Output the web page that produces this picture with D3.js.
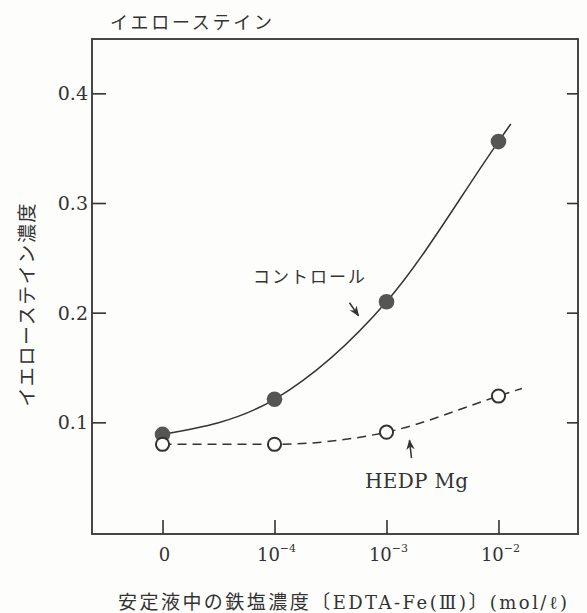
<!DOCTYPE html>
<html>
<head>
<meta charset="utf-8">
<script src="https://cdn.jsdelivr.net/npm/d3@7"></script>
<style>
  html, body { margin: 0; padding: 0; background: #fdfdfb; }
  svg { display: block; }
</style>
</head>
<body>
<svg id="chart" width="587" height="613"></svg>
<script>
// Iron salt concentration in stabiliser (categories on x axis)
const categories = ["0", "1e-4", "1e-3", "1e-2"];
const tickBase = ["0", "10", "10", "10"];
const tickExp = [null, "−4", "−3", "−2"];
// Yellow stain density
const controlValues = [0.089, 0.121, 0.210, 0.356];
const hedpValues = [0.080, 0.080, 0.091, 0.124];
const yTicks = [0.1, 0.2, 0.3, 0.4];
const yTickLabels = ["0.1", "0.2", "0.3", "0.4"];

const ink = "#333";
const svg = d3.select("#chart");
const frame = { left: 92, right: 578, top: 39, bottom: 534 };

const x = d3.scalePoint()
  .domain(categories)
  .range([frame.left, frame.right])
  .padding(0.67)
  .align(0.47);

const y = d3.scaleLinear()
  .domain([0, 0.45])
  .range([532, 38.5]);

// plot frame
svg.append("rect")
  .attr("x", frame.left).attr("y", frame.top)
  .attr("width", frame.right - frame.left)
  .attr("height", frame.bottom - frame.top)
  .attr("fill", "none").attr("stroke", ink).attr("stroke-width", 1.8);

// left axis (inward ticks) with labels
const leftAxis = d3.axisRight(y).tickValues(yTicks).tickSize(14).tickFormat("");
const gl = svg.append("g").attr("transform", `translate(${frame.left},0)`).call(leftAxis);
gl.select(".domain").remove();
gl.selectAll(".tick line").attr("stroke", ink).attr("stroke-width", 1.6);

svg.append("g").selectAll("text")
  .data(yTicks)
  .join("text")
  .attr("x", frame.left - 4)
  .attr("y", d => y(d))
  .attr("dy", "0.36em")
  .attr("text-anchor", "end")
  .attr("font-family", "DejaVu Serif")
  .attr("font-size", 19)
  .attr("fill", ink)
  .text((d, i) => yTickLabels[i]);

// right axis (inward ticks)
const rightAxis = d3.axisLeft(y).tickValues(yTicks).tickSize(11).tickFormat("");
const gr = svg.append("g").attr("transform", `translate(${frame.right},0)`).call(rightAxis);
gr.select(".domain").remove();
gr.selectAll(".tick line").attr("stroke", ink).attr("stroke-width", 1.6);

// bottom axis (upward ticks)
const bottomAxis = d3.axisTop(x).tickSize(14).tickFormat("");
const gb = svg.append("g").attr("transform", `translate(0,${frame.bottom})`).call(bottomAxis);
gb.select(".domain").remove();
gb.selectAll(".tick line").attr("stroke", ink).attr("stroke-width", 1.6);

const xl = svg.append("g").selectAll("text")
  .data(categories)
  .join("text")
  .attr("x", d => x(d) + 2)
  .attr("y", 561)
  .attr("text-anchor", "middle")
  .attr("font-family", "DejaVu Serif")
  .attr("font-size", 18)
  .attr("fill", ink);
xl.append("tspan").text((d, i) => tickBase[i]);
xl.filter((d, i) => tickExp[i] !== null)
  .append("tspan")
  .attr("font-size", 11)
  .attr("dy", -9)
  .text(d => tickExp[categories.indexOf(d)]);

// curves, each carried a short way past the last point along its final direction
function withExtension(values, k) {
  const pts = values.map((v, i) => [x(categories[i]), y(v)]);
  const n = pts.length;
  const a = pts[n - 2], b = pts[n - 1];
  pts.push([b[0] + (b[0] - a[0]) * k, b[1] + (b[1] - a[1]) * k]);
  return pts;
}
const line = d3.line().curve(d3.curveMonotoneX);

svg.append("path")
  .attr("d", line(withExtension(controlValues, 0.11)))
  .attr("fill", "none").attr("stroke", ink).attr("stroke-width", 1.5);

svg.append("path")
  .attr("d", line(withExtension(hedpValues, 0.21)))
  .attr("fill", "none").attr("stroke", ink).attr("stroke-width", 1.5)
  .attr("stroke-dasharray", "9,6");

// markers: filled = control, open = HEDP Mg
svg.append("g").selectAll("circle")
  .data(controlValues)
  .join("circle")
  .attr("cx", (d, i) => x(categories[i]))
  .attr("cy", d => y(d))
  .attr("r", 7.8)
  .attr("fill", "#555");

svg.append("g").selectAll("circle")
  .data(hedpValues)
  .join("circle")
  .attr("cx", (d, i) => x(categories[i]))
  .attr("cy", d => y(d))
  .attr("r", 6.6)
  .attr("fill", "#fdfdfb")
  .attr("stroke", ink)
  .attr("stroke-width", 2);

// annotation arrows
svg.append("defs").append("marker")
  .attr("id", "head")
  .attr("viewBox", "0 0 10 10")
  .attr("refX", 9).attr("refY", 5)
  .attr("markerWidth", 7).attr("markerHeight", 7)
  .attr("orient", "auto")
  .append("path").attr("d", "M0,1 L10,5 L0,9 L3,5 Z").attr("fill", ink);

const cX = x("1e-3"), cY = y(controlValues[2]);
svg.append("line")
  .attr("x1", cX - 37).attr("y1", cY + 1)
  .attr("x2", cX - 28).attr("y2", cY + 14)
  .attr("stroke", ink).attr("stroke-width", 1.5)
  .attr("marker-end", "url(#head)");

const hX = x("1e-3"), hY = y(hedpValues[2]);
svg.append("line")
  .attr("x1", hX + 25).attr("y1", hY + 26)
  .attr("x2", hX + 23).attr("y2", hY + 8)
  .attr("stroke", ink).attr("stroke-width", 1.5)
  .attr("marker-end", "url(#head)");

// series labels
svg.append("text")
  .attr("x", 253).attr("y", 283)
  .attr("font-family", "Noto Sans CJK JP")
  .attr("font-size", 17)
  .attr("fill", ink)
  .attr("textLength", 112).attr("lengthAdjust", "spacing")
  .text("コントロール");

svg.append("text")
  .attr("x", 365).attr("y", 488)
  .attr("font-family", "DejaVu Serif")
  .attr("font-size", 20)
  .attr("fill", ink)
  .attr("textLength", 103).attr("lengthAdjust", "spacing")
  .text("HEDP Mg");

// titles
svg.append("text")
  .attr("x", 110).attr("y", 29)
  .attr("font-family", "Noto Sans CJK JP")
  .attr("font-size", 18)
  .attr("fill", ink)
  .attr("textLength", 162).attr("lengthAdjust", "spacing")
  .text("イエローステイン");

svg.append("text")
  .attr("transform", "translate(34,305) rotate(-90)")
  .attr("text-anchor", "middle")
  .attr("font-family", "Noto Sans CJK JP")
  .attr("font-size", 19)
  .attr("fill", ink)
  .attr("textLength", 203).attr("lengthAdjust", "spacing")
  .text("イエローステイン濃度");

const xTitle = svg.append("text")
  .attr("x", 118).attr("y", 609)
  .attr("font-family", "Noto Sans CJK JP")
  .attr("font-size", 19)
  .attr("fill", ink)
  .attr("textLength", 449).attr("lengthAdjust", "spacing");
xTitle.append("tspan").text("安定液中の鉄塩濃度〔");
xTitle.append("tspan").attr("font-family", "DejaVu Serif").attr("font-size", 18).text("EDTA-Fe(Ⅲ)");
xTitle.append("tspan").text("〕");
xTitle.append("tspan").attr("font-family", "DejaVu Serif").attr("font-size", 18).text("(mol/ℓ)");
</script>
</body>
</html>
